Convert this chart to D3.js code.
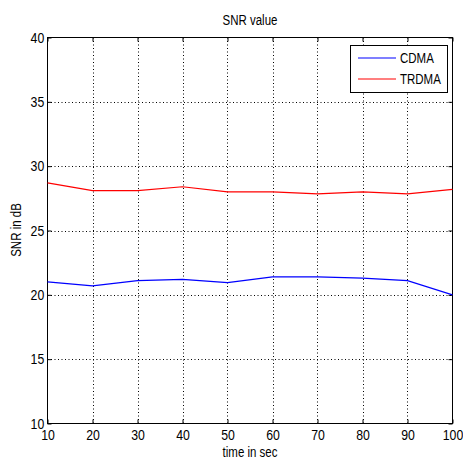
<!DOCTYPE html>
<html>
<head>
<meta charset="utf-8">
<script src="https://cdn.jsdelivr.net/npm/d3@7"></script>
<style>
  html, body { margin: 0; padding: 0; background: #fff; }
  svg { display: block; }
  text { font-family: "Liberation Sans", Arial, sans-serif; fill: #000; }
</style>
</head>
<body>
<svg id="chart" width="463" height="460"></svg>
<script>
// SNR measurements over time for the two access schemes
const timeSec = [10, 20, 30, 40, 50, 60, 70, 80, 90, 100];
const cdmaSnr = [21.0, 20.7, 21.1, 21.2, 20.95, 21.4, 21.4, 21.3, 21.1, 20.0];
const trdmaSnr = [28.7, 28.1, 28.1, 28.4, 28.0, 28.0, 27.85, 28.0, 27.85, 28.2];
const xTicks = [10, 20, 30, 40, 50, 60, 70, 80, 90, 100];
const yTicks = [10, 15, 20, 25, 30, 35, 40];
const seriesNames = ["CDMA", "TRDMA"];
const seriesColors = ["#0000ff", "#ff0000"];

// condensed lettering: glyphs squeezed horizontally
const SQ = 0.82;

const svg = d3.select("#chart");
const plotL = 47.5, plotR = 452.5, plotT = 37.5, plotB = 423.5;

const x = d3.scaleLinear().domain([10, 100]).range([plotL, plotR]);
const y = d3.scaleLinear().domain([10, 40]).range([plotB, plotT]);

svg.append("rect").attr("width", 463).attr("height", 460).attr("fill", "#fff");

// dotted grid
const grid = svg.append("g").attr("stroke", "#000").attr("stroke-width", 1)
  .attr("stroke-dasharray", "1,2.5");
grid.selectAll("line.vx").data(xTicks.slice(1, -1)).join("line")
  .attr("x1", d => Math.round(x(d)) + 0.5).attr("x2", d => Math.round(x(d)) + 0.5)
  .attr("y1", plotT).attr("y2", plotB);
grid.selectAll("line.hy").data(yTicks.slice(1, -1)).join("line")
  .attr("y1", d => Math.round(y(d)) + 0.5).attr("y2", d => Math.round(y(d)) + 0.5)
  .attr("x1", plotL).attr("x2", plotR);

// axes with inward ticks on all four sides
const tickLen = 4;
const fmt = d3.format("d");
const xBottom = d3.axisBottom(x).tickValues(xTicks).tickSizeInner(-tickLen).tickSizeOuter(0).tickPadding(6).tickFormat(fmt);
const xTop = d3.axisTop(x).tickValues(xTicks).tickSizeInner(-tickLen).tickSizeOuter(0).tickFormat("");
const yLeft = d3.axisLeft(y).tickValues(yTicks).tickSizeInner(-tickLen).tickSizeOuter(0).tickPadding(4).tickFormat(fmt);
const yRight = d3.axisRight(y).tickValues(yTicks).tickSizeInner(-tickLen).tickSizeOuter(0).tickFormat("");

function styleAxis(g) {
  g.select(".domain").remove();
  g.selectAll("line").attr("stroke", "#000");
  g.selectAll("text").attr("font-size", 15)
    .attr("font-family", "'Liberation Sans', Arial, sans-serif")
    .attr("transform", `scale(${SQ},1)`);
}
svg.append("g").attr("transform", `translate(0,${plotB})`).call(xBottom).call(styleAxis);
svg.append("g").attr("transform", `translate(0,${plotT})`).call(xTop).call(styleAxis);
svg.append("g").attr("transform", `translate(${plotL},0)`).call(yLeft).call(styleAxis);
svg.append("g").attr("transform", `translate(${plotR},0)`).call(yRight).call(styleAxis);

// plot box
svg.append("rect").attr("x", plotL).attr("y", plotT)
  .attr("width", plotR - plotL).attr("height", plotB - plotT)
  .attr("fill", "none").attr("stroke", "#000").attr("stroke-width", 1);

// series lines
const line = d3.line().x((d, i) => x(timeSec[i])).y(d => y(d));
[cdmaSnr, trdmaSnr].forEach((vals, k) => {
  svg.append("path").datum(vals).attr("d", line)
    .attr("fill", "none").attr("stroke", seriesColors[k]).attr("stroke-width", 1.2);
});

// title and axis labels
function label(tx, ty, rot, str) {
  svg.append("text")
    .attr("transform", `translate(${tx},${ty}) rotate(${rot}) scale(${SQ},1)`)
    .attr("text-anchor", "middle").attr("font-size", 14).text(str);
}
label(250, 25, 0, "SNR value");
label(250, 457, 0, "time in sec");
label(21, 230, -90, "SNR in dB");

// legend
const lg = svg.append("g");
lg.append("rect").attr("x", 350.5).attr("y", 45.5).attr("width", 97).attr("height", 47)
  .attr("fill", "#fff").attr("stroke", "#000").attr("stroke-width", 1);
seriesNames.forEach((name, k) => {
  const ly = 58 + k * 21;
  lg.append("line").attr("x1", 358).attr("x2", 396).attr("y1", ly).attr("y2", ly)
    .attr("stroke", seriesColors[k]).attr("stroke-width", 1.2);
  lg.append("text").attr("transform", `translate(400,${ly + 5}) scale(${SQ},1)`)
    .attr("font-size", 14).text(name);
});
</script>
</body>
</html>
